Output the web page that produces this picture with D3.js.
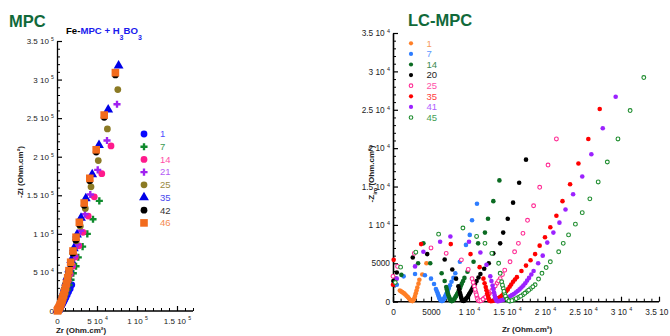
<!DOCTYPE html>
<html><head><meta charset="utf-8">
<script src="https://cdn.jsdelivr.net/npm/d3@7"></script>
<style>
body{margin:0;background:#fff}
svg{display:block}
text{font-family:"Liberation Sans",Arial,sans-serif}
</style>
</head><body>
<svg id="c" width="670" height="336"></svg>
<script>
// ---------------- DATA (impedance values in kOhm.cm2) ----------------
// Left panel: MPC (Fe-MPC + H3BO3), series = immersion days
const leftNames = ["1","7","14","21","25","35","42","46"];
const left_1  = [[18.5,34],[16.5,29],[14.5,25],[12.8,21],[11.2,17.5],[9.8,14.5],[8.5,12],[7.3,9.8],[6.2,7.9],[5.2,6.2],[4.3,4.8],[3.5,3.6],[2.8,2.6],[2.2,1.8],[1.6,1.1],[1.1,0.6]];
const left_7  = [[52.9,142.7],[45,119],[37.9,100],[32,83.4],[26.6,69.6],[23.8,58],[20.4,49],[17.5,40.5],[15,33.5],[12.8,27.5],[10.9,22.5],[9.3,18.3],[7.9,14.8],[6.7,11.9],[5.6,9.5],[4.7,7.5],[3.9,5.9],[3.2,4.5],[2.6,3.4],[2.1,2.5],[1.6,1.8],[1.2,1.2],[0.8,0.7]];
const left_14 = [[67.5,214],[56,178],[46.6,148],[39,123],[32.5,102],[27.3,84.5],[23,70],[19.4,58],[16.4,48],[13.9,39.5],[11.8,32.5],[10,26.7],[8.5,21.8],[7.2,17.7],[6.1,14.3],[5.1,11.5],[4.3,9.2],[3.6,7.3],[3,5.7],[2.5,4.3],[2,3.2],[1.6,2.3],[1.2,1.5],[0.8,0.9]];
const left_21 = [[75,268],[62.5,221],[50.9,183],[41.6,151],[35,125.4],[29.5,104],[25.5,86],[21.8,71],[18.6,58.5],[15.9,48],[13.6,39.5],[11.6,32.4],[9.9,26.5],[8.5,21.6],[7.2,17.5],[6.1,14.1],[5.2,11.3],[4.4,9],[3.7,7.1],[3.1,5.5],[2.5,4.2],[2,3.1],[1.6,2.2],[1.2,1.5],[0.8,0.9]];
const left_25 = [[76,287],[63,236],[51.6,195],[42.5,161],[35.4,133],[29.1,110],[24.2,91],[20.2,75],[17,62],[14.4,51],[12.3,42],[10.5,34.5],[9,28.3],[7.7,23],[6.6,18.8],[5.6,15.2],[4.8,12.2],[4,9.7],[3.4,7.6],[2.8,5.8],[2.3,4.4],[1.8,3.2],[1.4,2.2],[1,1.4],[0.7,0.8]];
const left_35 = [[77,318],[64,261],[52.5,215],[44,177],[36,146],[30,120.6],[25,99],[21,81],[17.8,66],[15.2,54],[13,44],[11.3,36.5],[9.8,30],[8.6,25],[7.5,20.5],[6.5,17],[5.6,14],[4.8,11.5],[4.1,9.3],[3.5,7.5],[2.9,5.9],[2.4,4.6],[1.9,3.4],[1.5,2.5],[1.1,1.7],[0.8,1]];
const left_42 = [[73,306],[59,251],[49,206],[41,169],[34,137],[28,112],[23.5,92],[19.8,75],[16.8,61],[14.6,50],[12.9,41],[11.4,34],[10.1,28],[8.9,23],[7.8,19],[6.8,15.6],[5.9,12.8],[5,10.4],[4.3,8.3],[3.6,6.5],[3,5],[2.5,3.8],[2,2.8],[1.5,1.9],[1.1,1.2],[0.7,0.6]];
const left_46 = [[73,309],[59,254],[49,209],[41,172],[34,140],[27.9,115],[23.8,95.6],[20,77.8],[17.1,63.2],[15,52.3],[13.4,43.2],[11.9,36],[10.6,30],[9.4,25],[8.3,20.8],[7.3,17.3],[6.4,14.3],[5.6,11.8],[4.8,9.6],[4.1,7.8],[3.5,6.2],[2.9,4.9],[2.4,3.8],[1.9,2.8],[1.5,2],[1.1,1.3],[0.8,0.7],[0.5,0.3]];

// Right panel: LC-MPC
const rightNames = ["1","7","14","20","25","35","41","45"];
const right_1  = [[0.9,1.45],[1.05,1.35],[1.2,1.25],[1.35,1.15],[1.5,1.05],[1.65,0.9],[1.8,0.75],[1.95,0.6],[2.1,0.42],[2.25,0.25],[2.4,0.12],[2.55,0.08],[2.68,0.2],[2.8,0.45],[2.9,0.75],[3.0,1.1],[3.1,1.45],[3.2,1.85],[3.35,2.35],[3.47,2.85],[3.85,3.55],[4.4,5.0]];
const right_7  = [[0.5,2.2],[1.4,3.3],[2.9,3.6],[4.2,3.45],[5.0,3.0],[5.4,2.3],[5.65,1.65],[5.85,1.15],[6.0,0.75],[6.12,0.45],[6.25,0.22],[6.4,0.1],[6.55,0.15],[6.7,0.35],[6.85,0.65],[7.0,0.95],[7.15,1.3],[7.35,1.8],[7.7,2.6],[8.2,3.7],[8.8,5.2],[9.6,7.4],[10.1,8.7],[10.4,10.6],[11.05,12.75],
  [5.75,1.4],[5.93,0.95],[6.06,0.6],[6.18,0.33],[6.32,0.15],[6.48,0.1],[6.62,0.24],[6.78,0.5],[6.92,0.8],[7.08,1.12],[7.25,1.55],[7.5,2.15],[7.95,3.1]];
const right_14 = [[0.4,3.0],[1.1,3.5],[3.3,5.0],[4.0,7.6],[4.9,5.0],[6.4,3.7],[6.8,2.7],[7.0,1.9],[7.15,1.3],[7.3,0.8],[7.45,0.4],[7.6,0.15],[7.75,0.08],[7.9,0.18],[8.1,0.4],[8.3,0.75],[8.55,1.2],[8.8,1.75],[9.05,2.35],[9.4,3.1],[9.8,3.9],[10.6,5.2],[11.2,7.6],[12.1,9.0],[12.5,10.8],[13.2,13.1],[14.0,15.8],
  [7.08,1.6],[7.22,1.05],[7.38,0.6],[7.52,0.27],[7.68,0.1],[7.82,0.12],[8.0,0.28],[8.2,0.57],[8.42,0.97],[8.68,1.47],[8.92,2.05],[9.22,2.7]];
const right_20 = [[0.05,2.7],[0.5,3.8],[2.6,5.75],[4.5,6.2],[6.8,5.5],[7.8,4.2],[8.3,3.0],[8.6,2.0],[8.8,1.2],[8.95,0.6],[9.1,0.2],[9.3,0.1],[9.5,0.25],[9.75,0.55],[10.0,0.95],[10.3,1.45],[10.6,2.0],[11.0,2.7],[11.5,3.6],[12.6,5.0],[13.2,6.3],[14.1,7.6],[14.5,9.0],[15.1,10.8],[15.8,12.9],[16.6,15.5],[17.5,18.5],
  [8.7,1.6],[8.88,0.9],[9.02,0.4],[9.2,0.13],[9.4,0.15],[9.62,0.4],[9.88,0.75],[10.15,1.2],[10.45,1.72],[10.8,2.35],[11.25,3.15],[12.0,4.3]];
const right_25 = [[0.0,3.3],[0.6,4.6],[2.8,6.3],[5.0,7.0],[7.0,6.3],[9.0,5.45],[9.9,4.2],[10.4,3.0],[10.7,2.0],[10.9,1.2],[11.05,0.6],[11.2,0.2],[11.4,0.1],[11.7,0.2],[12.0,0.45],[12.4,0.8],[12.8,1.2],[13.2,1.7],[13.7,2.4],[14.1,3.0],[14.7,4.1],[15.4,5.2],[16.0,6.5],[16.5,7.6],[17.1,8.9],[17.7,10.6],[18.5,12.5],[19.3,14.9],[20.4,17.8],[21.5,21.2],
  [10.55,2.5],[10.8,1.6],[10.98,0.9],[11.12,0.38],[11.3,0.13],[11.55,0.13],[11.85,0.32],[12.2,0.62],[12.6,1.0],[13.0,1.45],[13.45,2.05],[13.9,2.7],[14.4,3.55]];
const right_35 = [[0.0,2.2],[0.09,5.45],[3.7,7.5],[7.6,7.5],[10.2,6.2],[11.4,4.5],[11.9,3.0],[12.2,1.9],[12.4,1.1],[12.55,0.5],[12.7,0.15],[12.9,0.08],[13.3,0.15],[13.7,0.35],[14.1,0.6],[14.5,0.95],[14.9,1.35],[15.35,1.95],[15.8,2.6],[16.3,3.2],[16.9,4.0],[17.5,4.7],[18.1,5.4],[18.7,6.2],[19.3,7.3],[20.0,8.4],[20.7,9.7],[21.5,11.2],[22.3,13.1],[23.3,15.3],[24.4,18.0],[25.7,21.2],[27.2,25.1],
  [12.05,2.4],[12.3,1.5],[12.48,0.8],[12.62,0.3],[12.8,0.1],[13.1,0.1],[13.5,0.25],[13.9,0.47],[14.3,0.77],[14.7,1.15],[15.1,1.6],[15.55,2.25],[16.05,2.9]];
const right_41 = [[0.5,3.0],[2.9,4.6],[4.0,6.5],[6.2,7.8],[7.55,8.5],[10.0,7.8],[11.5,6.4],[12.3,4.8],[12.8,3.3],[13.1,2.1],[13.3,1.2],[13.45,0.55],[13.6,0.15],[13.8,0.07],[14.1,0.12],[14.5,0.25],[14.9,0.45],[15.4,0.7],[15.9,1.0],[16.4,1.4],[16.9,1.85],[17.4,2.4],[17.9,3.1],[18.5,4.0],[19.1,5.0],[19.7,6.0],[20.3,7.7],[21.1,9.0],[21.9,10.3],[22.7,12.0],[23.7,14.0],[24.9,16.3],[26.1,19.2],[27.6,22.6],[29.3,26.7],
  [12.95,2.7],[13.2,1.65],[13.38,0.85],[13.52,0.33],[13.7,0.1],[13.95,0.1],[14.3,0.18],[14.7,0.35],[15.15,0.57],[15.65,0.85],[16.15,1.2],[16.65,1.6],[17.15,2.1],[17.65,2.75],[18.2,3.55]];
const right_45 = [[0.3,2.5],[1.0,4.5],[3.0,6.45],[6.0,8.8],[9.2,9.6],[11.0,8.5],[12.1,7.6],[13.0,6.3],[13.9,5.0],[14.1,3.7],[14.3,2.6],[14.5,1.75],[14.7,1.0],[14.9,0.5],[15.1,0.2],[15.4,0.07],[15.9,0.25],[16.5,0.55],[17.1,0.9],[17.6,1.3],[18.1,1.7],[18.7,2.2],[19.6,3.7],[20.7,5.2],[21.8,6.5],[22.4,7.6],[23.1,8.7],[24.0,10.1],[24.9,11.6],[25.9,13.4],[27.0,15.6],[28.2,18.2],[29.6,21.2],[31.2,24.9],[33.0,29.2],
  [14.4,2.15],[14.6,1.35],[14.8,0.72],[15.0,0.32],[15.25,0.12],[15.65,0.14],[16.2,0.4],[16.8,0.72],[17.35,1.1],[17.85,1.5],[18.4,1.95],[19.15,2.95],[20.15,4.45]];

// Tick values and labels
const leftYTicks = [0,50,100,150,200,250,300,350];
const leftYLabels = ["0","5 10^4","1 10^5","1.5 10^5","2 10^5","2.5 10^5","3 10^5","3.5 10^5"];
const leftXTicks = [0,50,100,150];
const leftXLabels = ["0","5 10^4","1 10^5","1.5 10^5"];
const rightTicks = [0,5,10,15,20,25,30,35];
const rightLabels = ["0","5000","1 10^4","1.5 10^4","2 10^4","2.5 10^4","3 10^4","3.5 10^4"];

// ---------------- STYLE ----------------
const leftData = [left_1,left_7,left_14,left_21,left_25,left_35,left_42,left_46];
const leftColors = ["#0a0aff","#0e8a2c","#ff1a8c","#a020f0","#8b7a24","#0000e6","#000000","#f26b1d"];
const leftLabelColors = ["#5050ff","#3a9a50","#ff4fa8","#b45cf5","#9a8a40","#4848ee","#333333","#f58a50"];
const leftShapes = [d3.symbolCircle,d3.symbolCross,d3.symbolCircle,d3.symbolCross,d3.symbolCircle,d3.symbolTriangle,d3.symbolCircle,d3.symbolSquare];
const leftSizes = [36,28,36,28,36,42,36,58];

const rightData = [right_1,right_7,right_14,right_20,right_25,right_35,right_41,right_45];
const rightColors = ["#ff7f27","#2e7dff","#0b6b22","#000000","#ff2a93","#ff0000","#9b22ff","#1e8c2e"];
const rightLabelColors = ["#f59a60","#5a98ff","#3d8a50","#222222","#ff4fa8","#ff4040","#b060ff","#45a055"];
const rightOpen = [false,false,false,false,true,false,false,true];

const svg = d3.select("#c");

const lx = d3.scaleLinear().domain([0,170]).range([57,193]);
const ly = d3.scaleLinear().domain([0,350]).range([311,41]);
const rx = d3.scaleLinear().domain([0,35]).range([393,659]);
const ry = d3.scaleLinear().domain([0,35]).range([301.7,33]);

function supLabels(sel, fs){
  sel.selectAll(".tick text").each(function(){
    const s = d3.select(this); const t = s.text();
    s.attr("font-size", fs).attr("fill","#222").attr("font-family","Liberation Sans, Arial, sans-serif");
    if (t.includes("^")) {
      const [a,b] = t.split("^");
      s.text(a + " ");
      s.append("tspan").attr("dy", -3.2).attr("font-size", fs*0.65).text(b);
    }
  });
}

function drawAxes(x, y, yT, yL, xT, xL, xMax, yMax, sw, majorLen, yPad, xPad, fs, minorStep){
  const g = svg.append("g");
  const yMinor = d3.range(0, yMax+0.001, minorStep.y).filter(v => !yT.includes(v));
  const xMinor = d3.range(0, xMax+0.001, minorStep.x).filter(v => !xT.includes(v));
  g.append("g").attr("transform",`translate(${x(0)},0)`)
    .call(d3.axisLeft(y).tickValues(yMinor).tickSize(-3).tickSizeOuter(0).tickFormat(""))
    .call(s=>s.select(".domain").remove())
    .call(s=>s.selectAll("line").attr("stroke-width",1));
  g.append("g").attr("transform",`translate(0,${y(0)})`)
    .call(d3.axisBottom(x).tickValues(xMinor).tickSize(-3).tickSizeOuter(0).tickFormat(""))
    .call(s=>s.select(".domain").remove())
    .call(s=>s.selectAll("line").attr("stroke-width",1));
  const ya = g.append("g").attr("transform",`translate(${x(0)},0)`)
    .call(d3.axisLeft(y).tickValues(yT).tickFormat((d,i)=>yL[i]).tickSize(-majorLen).tickSizeOuter(0).tickPadding(yPad));
  ya.select(".domain").attr("stroke-width",sw);
  ya.selectAll("line").attr("stroke-width",1.2);
  supLabels(ya, fs);
  const xa = g.append("g").attr("transform",`translate(0,${y(0)})`)
    .call(d3.axisBottom(x).tickValues(xT).tickFormat((d,i)=>xL[i]).tickSize(-majorLen).tickSizeOuter(0).tickPadding(xPad));
  xa.select(".domain").attr("stroke-width",sw).attr("d",`M${x(0)},0H${x(xMax)}`);
  xa.selectAll("line").attr("stroke-width",1.2);
  supLabels(xa, fs);
}

// ---------- LEFT PANEL ----------
drawAxes(lx, ly, leftYTicks, leftYLabels, leftXTicks, leftXLabels, 170, 350, 1.3, 5, 3, 7, 8, {x:10,y:10});

const lg = svg.append("g");
leftData.forEach((ser, i) => {
  const sym = d3.symbol().type(leftShapes[i]).size(leftSizes[i]);
  lg.append("g").selectAll("path").data(ser).join("path")
    .attr("d", sym)
    .attr("transform", d => `translate(${lx(d[0])},${ly(d[1])})`)
    .attr("fill", leftColors[i]);
});
leftNames.forEach((n, i) => {
  const yy = 134 + i*12.7;
  svg.append("path").attr("d", d3.symbol().type(leftShapes[i]).size(leftSizes[i])())
    .attr("transform",`translate(144,${yy})`).attr("fill", leftColors[i]);
  svg.append("text").attr("x",160).attr("y",yy+3.3).attr("font-size",9.5)
    .attr("fill",leftLabelColors[i]).text(n);
});

// ---------- RIGHT PANEL ----------
drawAxes(rx, ry, rightTicks, rightLabels, rightTicks, rightLabels, 35, 35, 1.6, 5, 3, 7, 8.3, {x:1,y:1});

const rg = svg.append("g");
rightData.forEach((ser, i) => {
  rg.append("g").selectAll("circle").data(ser).join("circle")
    .attr("cx", d => rx(d[0])).attr("cy", d => ry(d[1]))
    .attr("r", rightOpen[i] ? 1.9 : 2.3)
    .attr("fill", rightOpen[i] ? "#fff" : rightColors[i])
    .attr("stroke", rightOpen[i] ? rightColors[i] : "none")
    .attr("stroke-width", 1.1);
});
rightNames.forEach((n, i) => {
  const yy = 43.3 + i*10.6;
  svg.append("circle").attr("cx",411).attr("cy",yy).attr("r", rightOpen[i]?1.8:2.1)
    .attr("fill", rightOpen[i] ? "#fff" : rightColors[i])
    .attr("stroke", rightOpen[i] ? rightColors[i] : "none").attr("stroke-width",1.1);
  svg.append("text").attr("x",426.5).attr("y",yy+3.2).attr("font-size",9.5)
    .attr("fill",rightLabelColors[i]).text(n);
});

// ---------- TITLES ----------
svg.append("text").attr("x",9).attr("y",26.5).attr("font-size",16.5).attr("font-weight","bold")
  .attr("fill","#11693a").text("MPC");
svg.append("text").attr("x",408).attr("y",26).attr("font-size",16.5).attr("font-weight","bold")
  .attr("fill","#11693a").text("LC-MPC");

const sub = svg.append("text").attr("x",66).attr("y",34).attr("font-size",9.6).attr("font-weight","bold");
sub.append("tspan").attr("fill","#000").text("Fe-");
sub.append("tspan").attr("fill","#1a1aee").text("MPC + H");
sub.append("tspan").attr("fill","#1a1aee").attr("dy",5.5).attr("font-size",7).text("3");
sub.append("tspan").attr("fill","#1a1aee").attr("dy",-5.5).text("BO");
sub.append("tspan").attr("fill","#1a1aee").attr("dy",5.5).attr("font-size",7).text("3");

svg.append("text").attr("x",81).attr("y",333).attr("text-anchor","middle")
  .attr("font-size",8).attr("font-weight","bold").attr("fill","#222")
  .text("Zr (Ohm.cm²)");
svg.append("text").attr("transform","translate(23,172) rotate(-90)").attr("text-anchor","middle")
  .attr("font-size",8).attr("font-weight","bold").attr("fill","#222")
  .text("-Zi (Ohm.cm²)");

svg.append("text").attr("x",527).attr("y",331.5).attr("text-anchor","middle")
  .attr("font-size",8).attr("font-weight","bold").attr("fill","#222")
  .text("Zr (Ohm.cm²)");
const yt = svg.append("text").attr("transform","translate(374,174) rotate(-90)").attr("text-anchor","middle")
  .attr("font-size",8).attr("font-weight","bold").attr("fill","#222");
yt.append("tspan").text("-Z");
yt.append("tspan").attr("dy",2.5).attr("font-size",6).text("im");
yt.append("tspan").attr("dy",-2.5).text(" (Ohm.cm²)");
</script>
</body></html>
